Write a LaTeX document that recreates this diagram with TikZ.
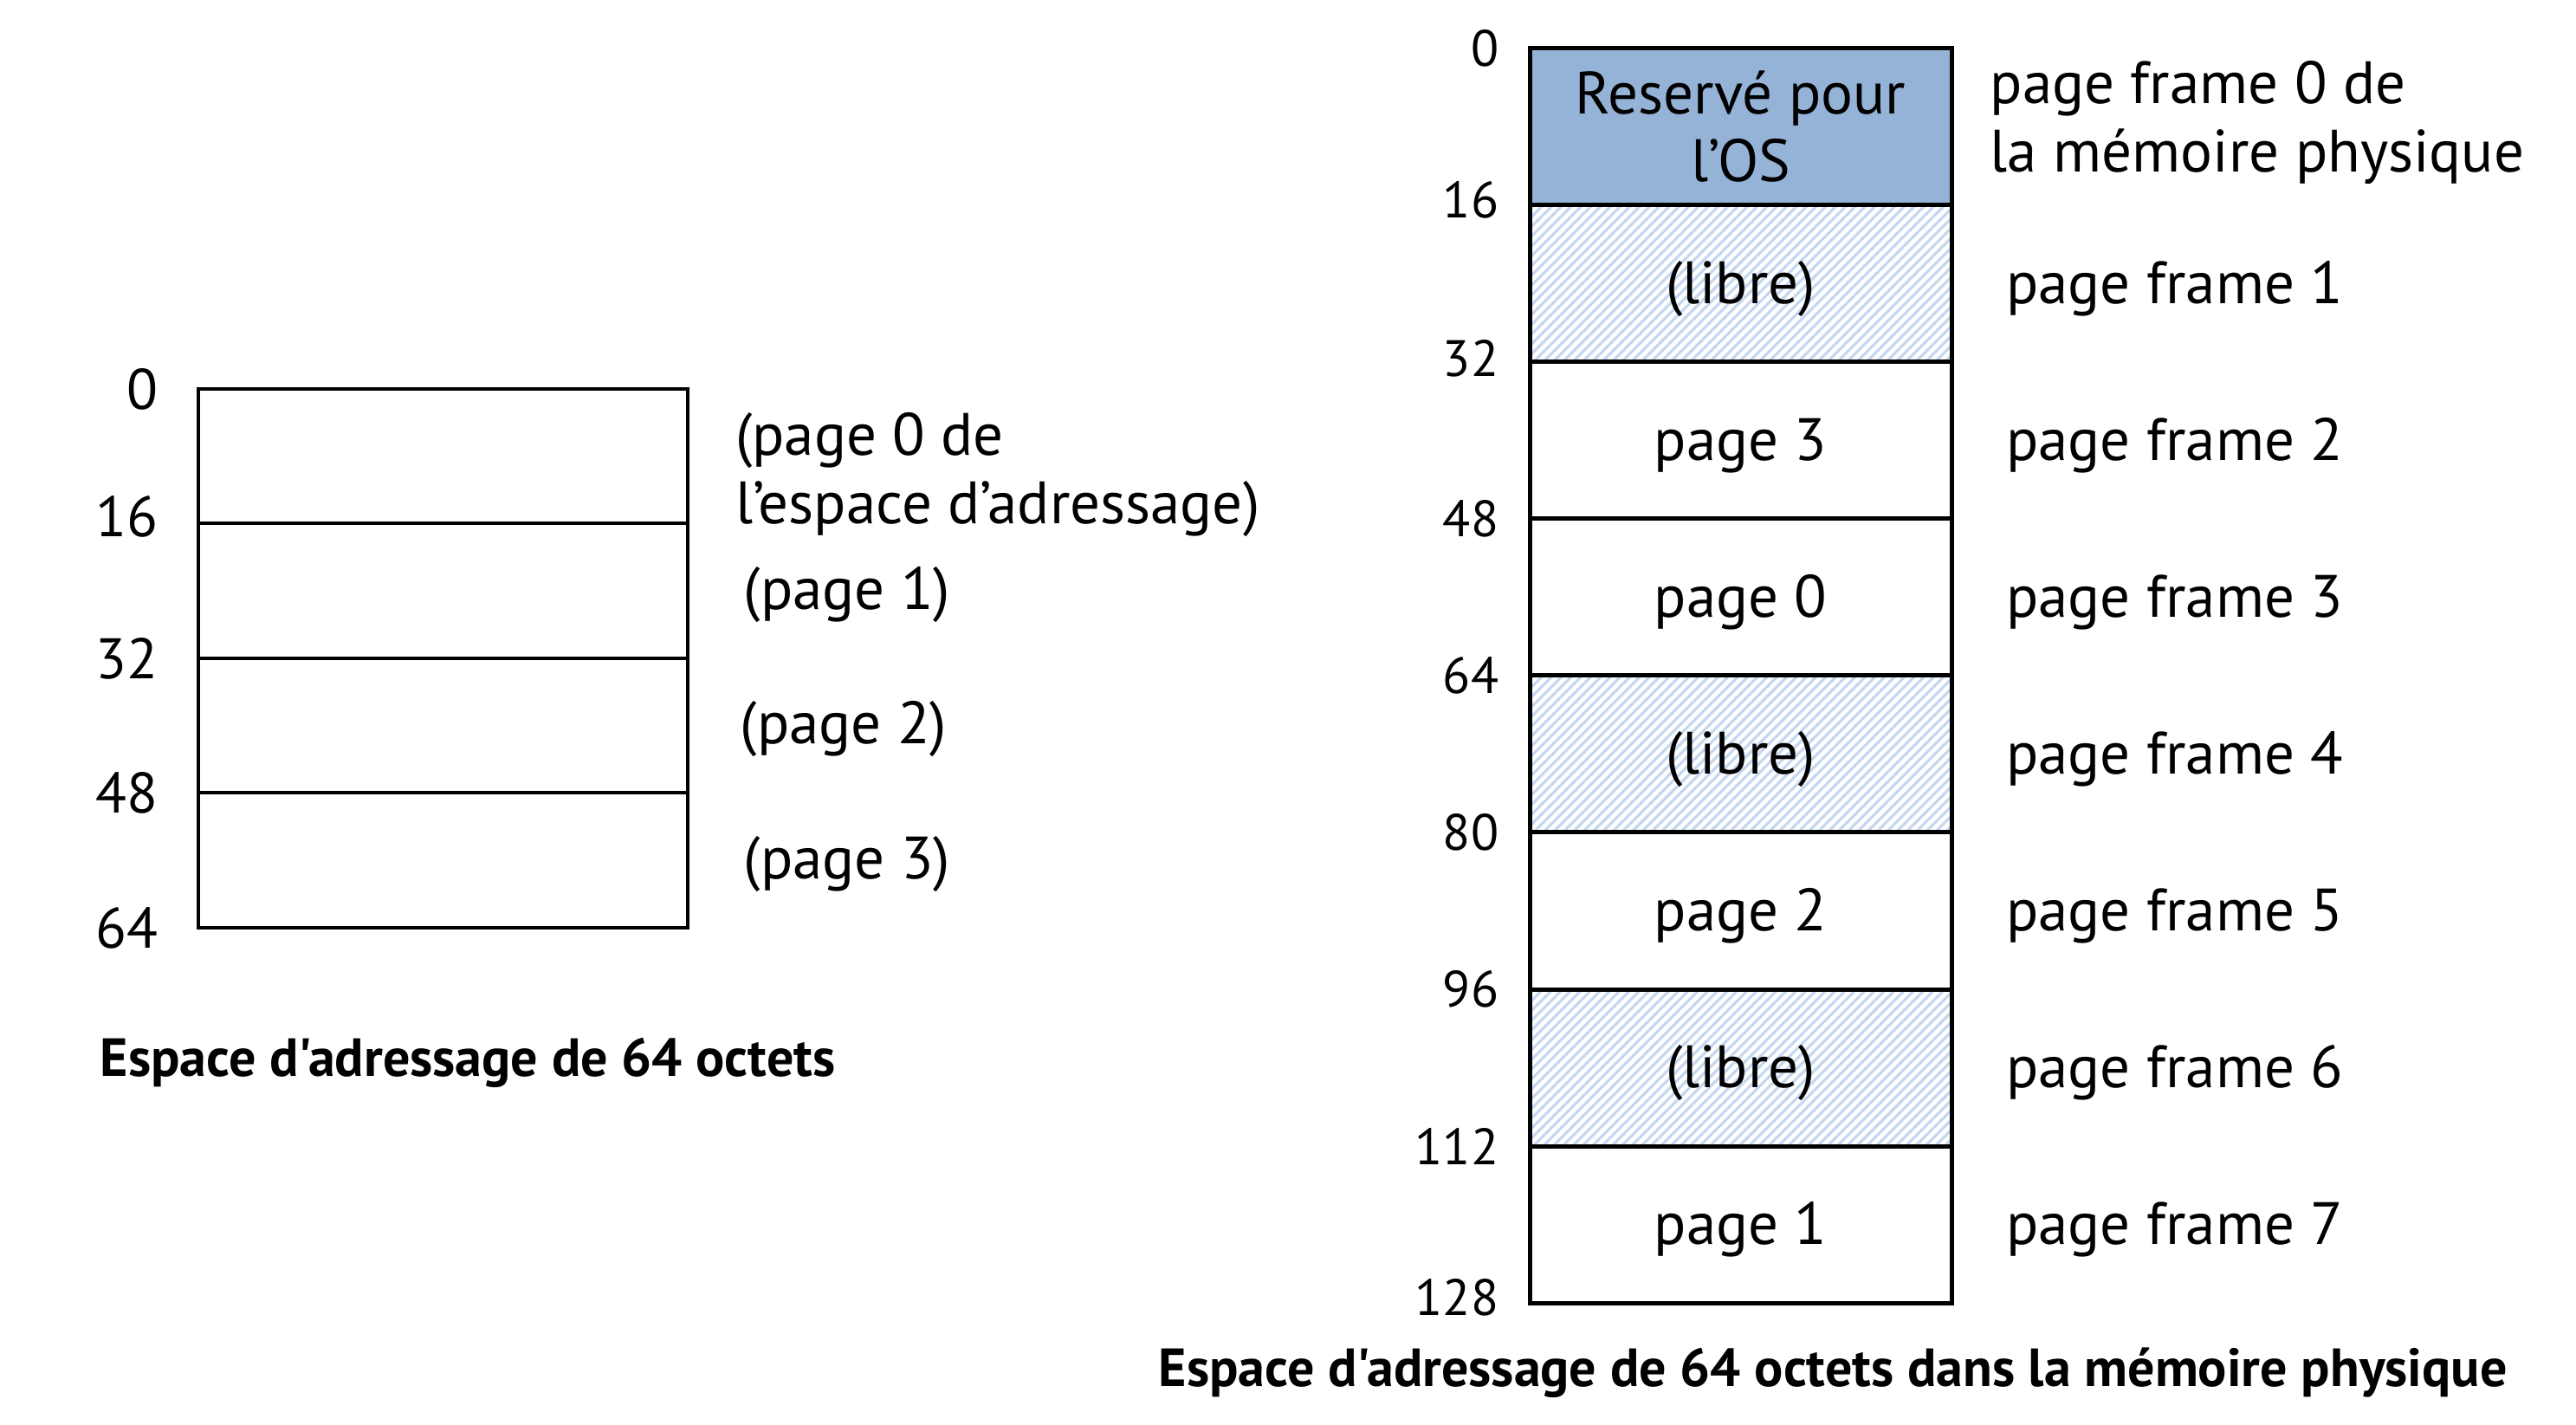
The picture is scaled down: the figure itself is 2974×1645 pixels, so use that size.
\documentclass[tikz,border=0pt]{standalone}
\usepackage{fontspec}
\setmainfont{PT Sans}[Ligatures=TeXOff]
\usetikzlibrary{positioning, patterns.meta}

\definecolor{osblue}{RGB}{149,179,215}
\definecolor{hatchblue}{RGB}{196,215,240}

\tikzset{
	frame/.style={draw, line width=1.25pt, minimum width=121.75pt, minimum height=45.25pt, inner sep=0pt, outer sep=0pt, align=center, font=\fontsize{17.25}{19.5}\selectfont},
	cell/.style={frame, text height=14pt, text depth=2.6pt},
	libre/.style={cell, pattern={Lines[angle=45, distance=2pt, line width=0.8pt]}, pattern color=hatchblue},
	vpage/.style={draw, line width=1pt, minimum width=141.25pt, minimum height=38.875pt, inner sep=0pt, outer sep=0pt},
	addr/.style={inner sep=0pt, font=\fontsize{16.5}{19}\selectfont},
	raddr/.style={inner sep=0pt, font=\fontsize{14.75}{17}\selectfont},
	lbl/.style={inner sep=0pt, align=left, font=\fontsize{17.25}{19.75}\selectfont},
	caption/.style={anchor=west, inner sep=0pt, font=\bfseries\fontsize{15.5}{18}\selectfont}
}

\begin{document}
\begin{tikzpicture}[x=0.25pt, y=-0.25pt, node distance=0pt]
	\useasboundingbox (0,0) rectangle (2974,1645);
	% address space of the process
	\node[vpage, anchor=north west] (v0) at (229,449) {};
	\node[vpage, below=of v0] (v1) {};
	\node[vpage, below=of v1] (v2) {};
	\node[vpage, below=of v2] (v3) {};
	\node[addr, left=11.5pt of v0.north west] (a0) {0};
	\node[addr, left=11.5pt of v0.south west, yshift=2pt] (a16) {16};
	\node[addr, left=11.5pt of v1.south west] (a32) {32};
	\node[addr, left=11.5pt of v2.south west] (a48) {48};
	\node[addr, left=11.5pt of v3.south west] (a64) {64};
	\node[lbl, right=13.6pt of v0.east, yshift=-5.2pt] (p0) {(page 0 de\\l’espace d’adressage)};
	\node[lbl, right=16pt of v1.east, yshift=-1pt] (p1) {(page 1)};
	\node[lbl, right=15pt of v2.east, yshift=-1pt] (p2) {(page 2)};
	\node[lbl, right=16pt of v3.east, yshift=-1pt] (p3) {(page 3)};
	\node[caption] (capv) at (115,1227) {Espace d'adressage de 64 octets};

	% physical memory
	\node[frame, fill=osblue, anchor=north west] (r0) at (1766,56) {Reservé pour\\l’OS};
	\node[libre, below=of r0] (r1) {(libre)};
	\node[cell, below=of r1] (r2) {page 3};
	\node[cell, below=of r2] (r3) {page 0};
	\node[libre, below=of r3] (r4) {(libre)};
	\node[cell, below=of r4] (r5) {page 2};
	\node[libre, below=of r5] (r6) {(libre)};
	\node[cell, below=of r6] (r7) {page 1};
	\node[raddr, left=8.75pt of r0.north west] (m0) {0};
	\node[raddr, left=8.75pt of r0.south west, yshift=1.5pt] (m16) {16};
	\node[raddr, left=8.75pt of r1.south west, yshift=1pt] (m32) {32};
	\node[raddr, left=8.75pt of r2.south west] (m48) {48};
	\node[raddr, left=8.75pt of r3.south west] (m64) {64};
	\node[raddr, left=8.75pt of r4.south west] (m80) {80};
	\node[raddr, left=8.75pt of r5.south west] (m96) {96};
	\node[raddr, left=8.75pt of r6.south west] (m112) {112};
	\node[raddr, left=8.75pt of r7.south west, yshift=1.5pt] (m128) {128};
	\node[lbl, right=11pt of r0.east, yshift=1.3pt] (f0) {page frame 0 de\\la mémoire physique};
	\node[lbl, right=15.6pt of r1.east, yshift=-1.5pt] (f1) {page frame 1};
	\node[lbl, right=15.6pt of r2.east, yshift=-1.5pt] (f2) {page frame 2};
	\node[lbl, right=15.6pt of r3.east, yshift=-1.5pt] (f3) {page frame 3};
	\node[lbl, right=15.6pt of r4.east, yshift=-1.5pt] (f4) {page frame 4};
	\node[lbl, right=15.6pt of r5.east, yshift=-1.5pt] (f5) {page frame 5};
	\node[lbl, right=15.6pt of r6.east, yshift=-1.5pt] (f6) {page frame 6};
	\node[lbl, right=15.6pt of r7.east, yshift=-1.5pt] (f7) {page frame 7};
	\node[caption] (capp) at (1337,1585) {Espace d'adressage de 64 octets dans la mémoire physique};
\end{tikzpicture}
\end{document}
